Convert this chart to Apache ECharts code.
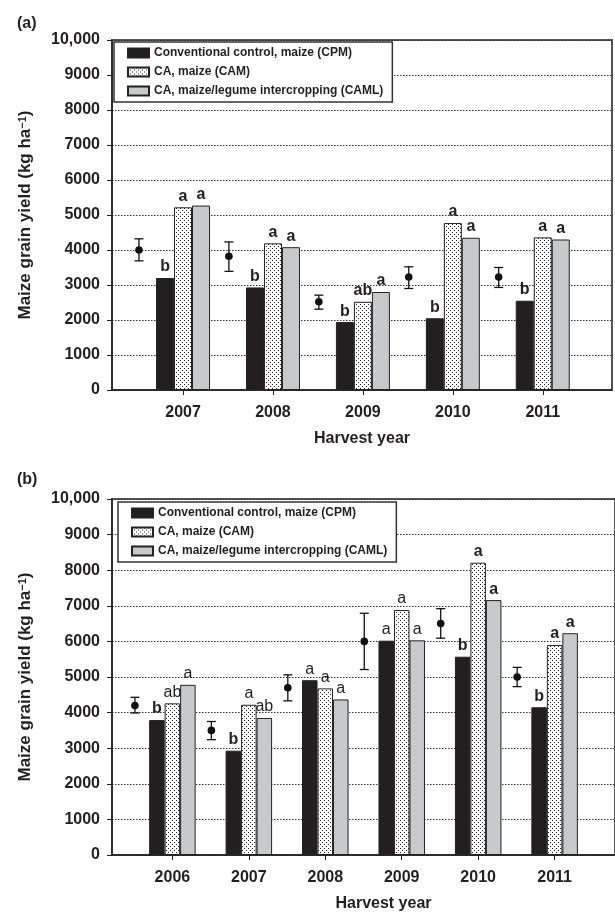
<!DOCTYPE html>
<html><head><meta charset="utf-8">
<script src="https://cdn.jsdelivr.net/npm/echarts@6/dist/echarts.min.js"></script>
<style>html,body{margin:0;padding:0;background:#fff}#c{width:615px;height:914px}</style>
</head><body><div id="c"></div>
<script>
// ---------- DATA ----------
const seriesNames = ['Conventional control, maize (CPM)', 'CA, maize (CAM)', 'CA, maize/legume intercropping (CAML)'];
const yTickLabels = ['0','1000','2000','3000','4000','5000','6000','7000','8000','9000','10,000'];

// Panel (a)
const yearsA = [2007, 2008, 2009, 2010, 2011];
const cpmA  = [3200, 2930, 1940, 2050, 2550];
const camA  = [5220, 4190, 2520, 4770, 4360];
const camlA = [5270, 4080, 2800, 4350, 4300];
const meanA = [4000, 3820, 2520, 3230, 3230];
const lowA  = [3690, 3390, 2310, 2900, 2930];
const highA = [4320, 4230, 2710, 3520, 3500];
const letCpmA  = ['b','b','b','b','b'];
const letCamA  = ['a','a','ab','a','a'];
const letCamlA = ['a','a','a','a','a'];
const boldCpmA  = [1,1,1,1,1];
const boldCamA  = [1,1,1,1,1];
const boldCamlA = [1,1,1,1,1];

// Panel (b)
const yearsB = [2006, 2007, 2008, 2009, 2010, 2011];
const cpmB  = [3790, 2930, 4910, 6020, 5570, 4150];
const camB  = [4260, 4220, 4680, 6880, 8210, 5900];
const camlB = [4780, 3850, 4370, 6030, 7160, 6230];
const meanB = [4200, 3500, 4700, 6000, 6500, 5000];
const lowB  = [3990, 3240, 4330, 5210, 6090, 4730];
const highB = [4430, 3750, 5060, 6790, 6920, 5270];
const letCpmB  = ['b','b','a','a','b','b'];
const letCamB  = ['ab','a','a','a','a','a'];
const letCamlB = ['a','ab','a','a','a','a'];
const boldCpmB  = [1,1,0,0,1,1];
const boldCamB  = [0,0,0,0,1,1];
const boldCamlB = [0,0,0,0,1,1];

// ---------- STYLE ----------
const FONT = '"Liberation Sans", Arial, Helvetica, sans-serif';
const INK = '#231f20';
function dotPattern(){
  const c = document.createElement('canvas'); c.width = 4; c.height = 4;
  const g = c.getContext('2d');
  g.fillStyle = '#fff'; g.fillRect(0,0,4,4);
  g.fillStyle = '#222'; g.fillRect(0,0,1,1); g.fillRect(2,2,1,1);
  return c;
}
const fills = [INK, {image: dotPattern(), repeat: 'repeat'}, '#c8c9cb'];

function barSeries(i, idx, years, vals, letters, bolds, barW){
  return {
    type: 'bar', name: seriesNames[i], xAxisIndex: idx, yAxisIndex: idx,
    barWidth: barW, barGap: '0%',
    itemStyle: {color: fills[i], borderColor: '#222', borderWidth: 1},
    data: years.map((y, k) => ({
      value: [y, vals[k]],
      label: {show: true, position: 'top', distance: 3, formatter: letters[k],
              fontFamily: FONT, fontSize: 16, color: INK,
              fontWeight: bolds[k] ? 'bold' : 'normal'}
    })),
    z: 3
  };
}
function errSeries(idx, years, mean, low, high){
  return {
    type: 'custom', xAxisIndex: idx, yAxisIndex: idx, z: 4,
    encode: {x: 0, y: [1,2,3]},
    data: years.map((y,k) => [y, mean[k], low[k], high[k]]),
    renderItem(params, api){
      const x = api.value(0);
      const m = api.coord([x, api.value(1)]);
      const lo = api.coord([x, api.value(2)]);
      const hi = api.coord([x, api.value(3)]);
      const band = api.size([1,0])[0];
      const px = m[0] - 0.49 * band;
      const cap = 4.5, st = {stroke: '#111', lineWidth: 1.3};
      return {type: 'group', children: [
        {type:'line', shape:{x1:px, y1:hi[1], x2:px, y2:lo[1]}, style: st},
        {type:'line', shape:{x1:px-cap, y1:hi[1], x2:px+cap, y2:hi[1]}, style: st},
        {type:'line', shape:{x1:px-cap, y1:lo[1], x2:px+cap, y2:lo[1]}, style: st},
        {type:'circle', shape:{cx:px, cy:m[1], r:3.8}, style:{fill:'#111'}}
      ]};
    }
  };
}
function xAxis(idx, years, min, max, padLeft){
  return {
    type: 'value', gridIndex: idx, min: min, max: max,
    name: 'Harvest year', nameLocation: 'middle', nameGap: 41,
    nameTextStyle: {fontFamily: FONT, fontSize: 16, fontWeight: 'bold', color: INK, padding: [0,0,0,padLeft]},
    axisLine: {show: true, lineStyle: {color: '#222', width: 1.5}},
    axisTick: {show: true, length: 5, customValues: years, lineStyle: {color: '#222'}},
    axisLabel: {customValues: years, margin: 15, fontFamily: FONT, fontSize: 16, fontWeight: 'bold', color: INK,
                formatter: v => String(v)},
    splitLine: {show: false}
  };
}
function yAxis(idx){
  return {
    type: 'value', gridIndex: idx, min: 0, max: 10000, interval: 1000,
    name: '{t|Maize grain yield (kg ha}{s|−1}{t|)}', nameLocation: 'middle', nameGap: 78,
    nameTextStyle: {rich: {
      t: {fontFamily: FONT, fontSize: 17, fontWeight: 'bold', color: INK},
      s: {fontFamily: FONT, fontSize: 11, fontWeight: 'bold', color: INK, verticalAlign: 'top', padding: [0,0,6,0]}
    }},
    axisLine: {show: true, lineStyle: {color: '#222', width: 1.5}},
    axisTick: {show: true, length: 5, lineStyle: {color: '#222'}},
    axisLabel: {margin: 12, fontFamily: FONT, fontSize: 16, fontWeight: 'bold', color: INK,
                formatter: v => yTickLabels[Math.round(v/1000)]},
    splitLine: {show: true, lineStyle: {color: '#333', width: 1, type: [1.5, 1.5]}}
  };
}
function legend(left, top){
  return {
    data: seriesNames.map(n => ({name: n, icon: 'rect'})), orient: 'vertical', left: left, top: top,
    itemWidth: 21, itemHeight: 9, itemGap: 7, padding: [5, 9, 5, 13],
    backgroundColor: '#fff', borderColor: '#333', borderWidth: 1.5, borderRadius: 0,
    selectedMode: false,
    textStyle: {fontFamily: FONT, fontSize: 12, fontWeight: 'bold', color: INK}
  };
}

const chart = echarts.init(document.getElementById('c'), null, {renderer: 'canvas'});
chart.setOption({
  animation: false,
  backgroundColor: '#fff',
  title: [
    {text: '(a)', left: 17, top: 16, padding: 0, textStyle: {fontFamily: FONT, fontSize: 16, fontWeight: 'bold', color: INK}},
    {text: '(b)', left: 17, top: 472, padding: 0, textStyle: {fontFamily: FONT, fontSize: 16, fontWeight: 'bold', color: INK}}
  ],
  legend: [legend(114, 42), legend(118, 502)],
  grid: [
    {left: 112, top: 40, width: 500, height: 350, show: true, borderColor: '#555', borderWidth: 2, backgroundColor: 'transparent'},
    {left: 112, top: 499, width: 507, height: 356, show: true, borderColor: '#555', borderWidth: 2, backgroundColor: 'transparent'}
  ],
  xAxis: [xAxis(0, yearsA, 2006.21, 2011.77, 0), xAxis(1, yearsB, 2005.21, 2011.79, 40)],
  yAxis: [yAxis(0), yAxis(1)],
  series: [
    barSeries(0, 0, yearsA, cpmA, letCpmA, boldCpmA, 18),
    barSeries(1, 0, yearsA, camA, letCamA, boldCamA, 18),
    barSeries(2, 0, yearsA, camlA, letCamlA, boldCamlA, 18),
    errSeries(0, yearsA, meanA, lowA, highA),
    barSeries(0, 1, yearsB, cpmB, letCpmB, boldCpmB, 15.5),
    barSeries(1, 1, yearsB, camB, letCamB, boldCamB, 15.5),
    barSeries(2, 1, yearsB, camlB, letCamlB, boldCamlB, 15.5),
    errSeries(1, yearsB, meanB, lowB, highB)
  ]
});
</script></body></html>
